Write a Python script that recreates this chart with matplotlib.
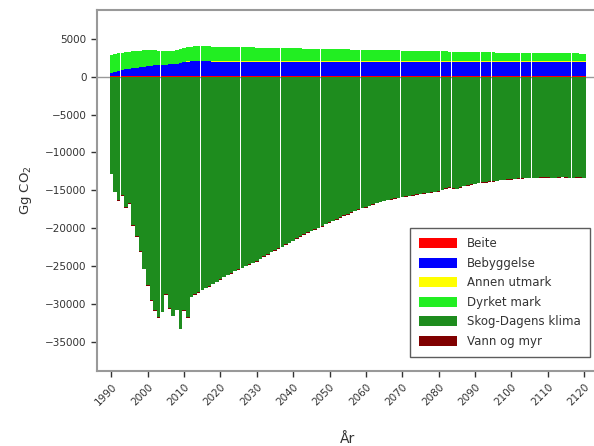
import matplotlib
matplotlib.use('Agg')
import matplotlib.pyplot as plt
import numpy as np

years = list(range(1990, 2121))

skog = [
    -12800, -15200, -16300, -15600, -17200, -16700, -19600, -21000, -23000, -25300,
    -27500, -29500, -30800, -31700, -31000, -28700, -30500, -31500, -30700, -33200,
    -30800, -31700, -29000, -28700, -28400, -28100, -27850, -27600, -27300, -27000,
    -26700, -26400, -26100, -25900, -25600, -25400, -25200, -24900, -24700, -24500,
    -24300, -24000, -23700, -23400, -23100, -22900, -22600, -22400, -22100, -21900,
    -21600, -21300, -21000, -20800, -20500, -20300, -20100, -19900, -19700, -19400,
    -19200, -19000, -18800, -18500, -18300, -18100, -17900, -17700, -17500, -17300,
    -17200, -17000, -16800, -16600, -16500, -16350, -16250, -16150, -16050, -15950,
    -15850, -15750, -15700, -15600, -15500, -15450, -15400, -15300, -15250, -15200,
    -15100, -14900, -14700, -14600, -14700, -14800, -14600, -14400, -14300, -14200,
    -14100, -14000, -13900, -13900, -13800, -13800, -13700, -13600, -13600, -13500,
    -13500, -13450, -13400, -13400, -13350, -13300, -13300, -13300, -13250, -13250,
    -13250, -13300, -13300, -13250, -13200, -13250, -13300, -13300, -13250, -13250,
    -13300,
]

bebyggelse = [
    380, 520, 650, 780, 880, 960, 1020, 1080, 1120, 1200,
    1280, 1350, 1400, 1430, 1460, 1490, 1520, 1560, 1620, 1750,
    1850, 1900, 1920, 1920, 1920, 1910, 1910, 1910, 1900, 1900,
    1900, 1900, 1900, 1900, 1900, 1900, 1900, 1900, 1900, 1900,
    1900, 1900, 1900, 1900, 1900, 1900, 1900, 1900, 1900, 1900,
    1900, 1900, 1900, 1900, 1900, 1900, 1900, 1900, 1900, 1900,
    1900, 1900, 1900, 1900, 1900, 1900, 1900, 1900, 1900, 1900,
    1900, 1900, 1900, 1900, 1900, 1900, 1900, 1900, 1900, 1900,
    1900, 1900, 1900, 1900, 1900, 1900, 1900, 1900, 1900, 1900,
    1900, 1900, 1900, 1900, 1900, 1900, 1900, 1900, 1900, 1900,
    1900, 1900, 1900, 1900, 1900, 1900, 1900, 1900, 1900, 1900,
    1900, 1900, 1900, 1900, 1900, 1900, 1900, 1900, 1900, 1900,
    1900, 1900, 1900, 1900, 1900, 1900, 1900, 1900, 1900, 1900,
    1900,
]

dyrket = [
    2350, 2380, 2400, 2300, 2300, 2250, 2250, 2200, 2200, 2150,
    2100, 2000, 1950, 1900, 1850, 1780, 1750, 1750, 1800, 1850,
    1800, 1850, 1950, 2000, 2000, 1990, 1980, 1970, 1960, 1950,
    1930, 1920, 1910, 1900, 1890, 1880, 1870, 1860, 1850, 1840,
    1830, 1820, 1810, 1800, 1790, 1780, 1770, 1760, 1750, 1740,
    1730, 1720, 1710, 1700, 1690, 1680, 1670, 1660, 1650, 1640,
    1630, 1620, 1610, 1600, 1590, 1580, 1570, 1560, 1550, 1540,
    1530, 1520, 1510, 1500, 1495, 1490, 1480, 1470, 1460, 1450,
    1440, 1430, 1420, 1410, 1400, 1390, 1380, 1370, 1360, 1350,
    1340, 1330, 1320, 1310, 1300, 1290, 1280, 1270, 1260, 1250,
    1240, 1230, 1220, 1210, 1200, 1190, 1180, 1170, 1160, 1150,
    1140, 1130, 1120, 1110, 1100, 1095, 1090, 1085, 1080, 1075,
    1070, 1065, 1060, 1060, 1055, 1055, 1050, 1050, 1050, 1045,
    1045,
]

beite = [80] * len(years)
annen_utmark = [15] * len(years)
vann_myr = [-70] * len(years)

labels = ['Beite', 'Bebyggelse', 'Annen utmark', 'Dyrket mark',
          'Skog-Dagens klima', 'Vann og myr']
colors = ['#ff0000', '#0000ff', '#ffff00', '#22ee22', '#1e8c1e', '#800000']
series = [beite, bebyggelse, annen_utmark, dyrket, skog, vann_myr]

fig = plt.figure(figsize=(5.94, 4.46), dpi=100)
ax = fig.add_axes([0.163, 0.168, 0.845, 0.81])

pos_bottom = np.zeros(len(years))
neg_bottom = np.zeros(len(years))
for lab, col, vals in zip(labels, colors, series):
    v = np.array(vals, dtype=float)
    bottom = np.where(v >= 0, pos_bottom, neg_bottom)
    ax.bar(years, v, bottom=bottom, width=0.97, color=col, linewidth=0, label=lab)
    pos_bottom += np.where(v >= 0, v, 0)
    neg_bottom += np.where(v < 0, v, 0)

ax.axhline(0, color='#999999', linewidth=1, zorder=0)

ax.set_xlim(1986, 2124)
ax.set_ylim(-38800, 8800)
ax.set_xticks(range(1990, 2121, 10))
ax.set_yticks(range(-35000, 5001, 5000))
ax.tick_params(axis='x', labelrotation=45, labelsize=7.5, colors='#333333',
               length=4, width=1)
ax.tick_params(axis='y', labelsize=7.5, colors='#333333', length=4, width=1)
for lbl in ax.get_xticklabels():
    lbl.set_ha('right')
    lbl.set_rotation_mode('anchor')

for side in ['top', 'left', 'bottom']:
    ax.spines[side].set_color('#999999')
    ax.spines[side].set_linewidth(1.5)
ax.spines['right'].set_visible(False)

ax.set_ylabel('Gg CO$_2$', fontsize=9.5, color='#333333', labelpad=8)
ax.set_xlabel('År', fontsize=10, color='#333333', labelpad=18)

leg = ax.legend(loc='lower right', bbox_to_anchor=(0.994, 0.022), fontsize=8.5,
                frameon=True, fancybox=False, edgecolor='#333333',
                handlelength=3.2, handleheight=0.9, labelspacing=0.55,
                borderpad=0.8, handletextpad=0.8)
leg.get_frame().set_linewidth(1)
for t in leg.get_texts():
    t.set_color('#333333')

fig.savefig('out.png', dpi=100)
